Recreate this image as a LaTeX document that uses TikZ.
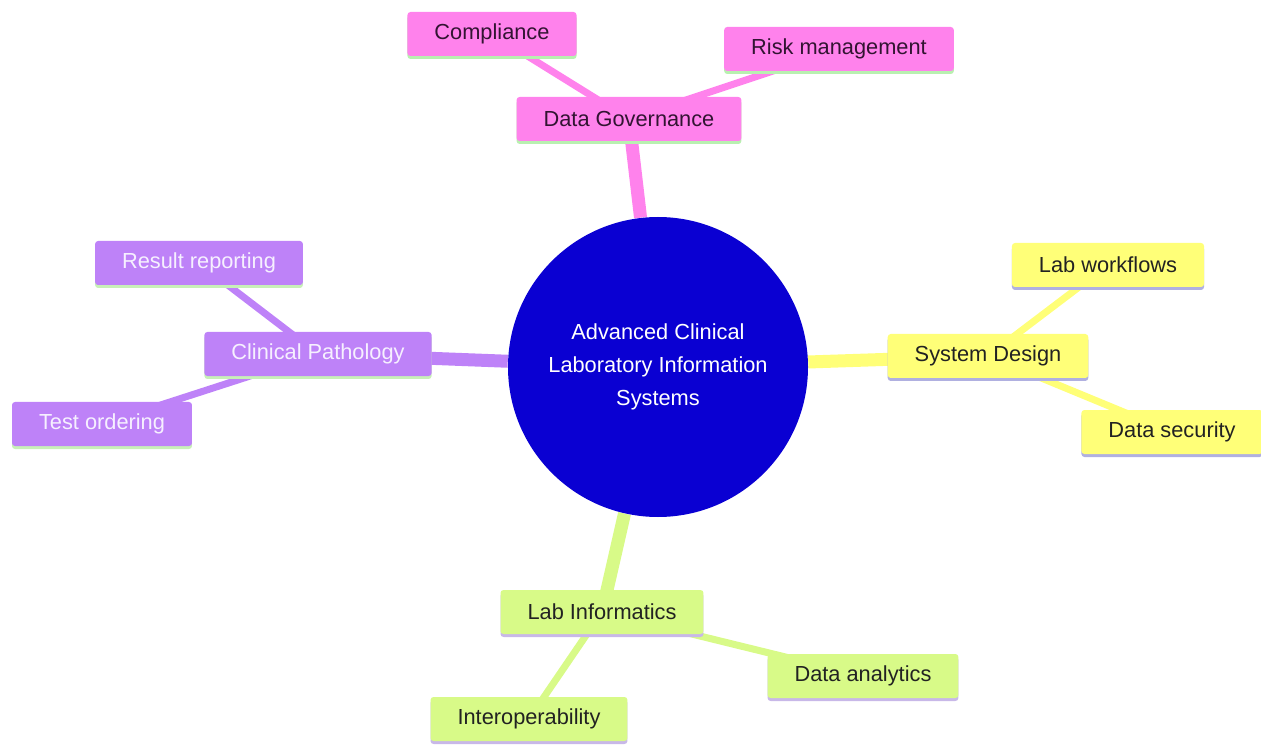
\documentclass[tikz,border=0pt]{standalone}
\usepackage{fontspec}
\setmainfont{Liberation Sans}
\usetikzlibrary{shadows, backgrounds}
\definecolor{govfill}{HTML}{FF82EC}
\definecolor{govline}{HTML}{B8F0B0}
\definecolor{pathfill}{HTML}{BE82F8}
\definecolor{pathline}{HTML}{C8F0B8}
\definecolor{desfill}{HTML}{FFFF78}
\definecolor{desline}{HTML}{B0B0E0}
\definecolor{infofill}{HTML}{D8FA88}
\definecolor{infoline}{HTML}{C8B8E8}
\definecolor{rootfill}{RGB}{10,0,210}
\tikzstyle{root} = [circle, minimum size=6cm, align=center, text=white, fill=rootfill, font=\fontsize{12.4}{18.8}\selectfont]
\tikzstyle{topic} = [rectangle, rounded corners=0.06cm, minimum height=0.88cm, inner xsep=0.54cm, text centered, font=\fontsize{12.4}{15}\selectfont]
\tikzstyle{gov} = [topic, fill=govfill, text={rgb,255:red,50;green,20;blue,50}, drop shadow={shadow xshift=0pt, shadow yshift=-0.06cm, fill=govline, opacity=1}]
\tikzstyle{path} = [topic, fill=pathfill, text={rgb,255:red,246;green,240;blue,255}, drop shadow={shadow xshift=0pt, shadow yshift=-0.06cm, fill=pathline, opacity=1}]
\tikzstyle{des} = [topic, fill=desfill, text={rgb,255:red,34;green,34;blue,34}, drop shadow={shadow xshift=0pt, shadow yshift=-0.06cm, fill=desline, opacity=1}]
\tikzstyle{info} = [topic, fill=infofill, text={rgb,255:red,34;green,34;blue,34}, drop shadow={shadow xshift=0pt, shadow yshift=-0.06cm, fill=infoline, opacity=1}]
\tikzstyle{trunk} = [line width=0.26cm]
\tikzstyle{twig} = [line width=0.14cm]
\begin{document}
\begin{tikzpicture}
					\useasboundingbox (0,0) rectangle (25.22,-14.90);
					\node[root] (root) at (13.16,-7.34) {Advanced Clinical\\Laboratory Information\\Systems};
					\node[gov] (gov) at (12.58,-2.38) {Data Governance};
					\node[gov] (compliance) at (9.84,-0.68) {Compliance};
					\node[gov] (risk) at (16.78,-0.98) {Risk management};
					\node[path] (path) at (6.36,-7.08) {Clinical Pathology};
					\node[path] (reporting) at (3.98,-5.26) {Result reporting};
					\node[path] (ordering) at (2.04,-8.48) {Test ordering};
					\node[des] (design) at (19.76,-7.12) {System Design};
					\node[des] (workflows) at (22.16,-5.30) {Lab workflows};
					\node[des] (security) at (23.44,-8.64) {Data security};
					\node[info] (info) at (12.04,-12.24) {Lab Informatics};
					\node[info] (analytics) at (17.26,-13.52) {Data analytics};
					\node[info] (interop) at (10.58,-14.38) {Interoperability};
					\begin{pgfonlayer}{background}
					\draw[trunk, govfill] (root) -- (gov.center);
					\draw[twig, govfill] (gov.center) -- (compliance.center);
					\draw[twig, govfill] (gov.center) -- (risk.center);
					\draw[trunk, pathfill] (root) -- (path.center);
					\draw[twig, pathfill] (path.center) -- (reporting.center);
					\draw[twig, pathfill] (path.center) -- (ordering.center);
					\draw[trunk, desfill] (root) -- (design.center);
					\draw[twig, desfill] (design.center) -- (workflows.center);
					\draw[twig, desfill] (design.center) -- (security.center);
					\draw[trunk, infofill] (root) -- (info.center);
					\draw[twig, infofill] (info.center) -- (analytics.center);
					\draw[twig, infofill] (info.center) -- (interop.center);
					\end{pgfonlayer}
				\end{tikzpicture}
\end{document}
